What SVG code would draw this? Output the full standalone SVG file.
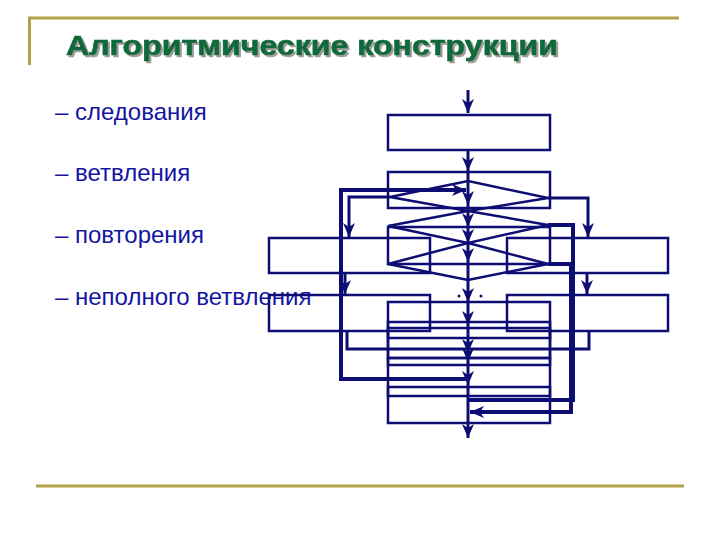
<svg xmlns="http://www.w3.org/2000/svg" width="720" height="540" viewBox="0 0 720 540">
<style>
.gold{fill:none;stroke:#b3a04a;stroke-width:3}
.box{fill:none;stroke:#0d0d73;stroke-width:2.5}
.ln{fill:none;stroke:#0d0d73;stroke-width:3}
.thk{stroke-width:4}
.lbl{font-family:"Liberation Sans",Arial,sans-serif;font-size:24px;fill:#1414a3}
.ttl{font-family:"Liberation Sans",Arial,sans-serif;font-size:28px;font-weight:bold;fill:#0e6b3a;stroke:#0e6b3a;stroke-width:0.7}
</style>
<defs>
<marker id="ah" viewBox="-1 -7 16 14" refX="14" refY="0" markerWidth="16" markerHeight="14" markerUnits="userSpaceOnUse" orient="auto">
<path d="M0,-6 L14,0 L0,6 L4,0 z" fill="#0d0d73"/>
</marker>
<filter id="shadow" x="-5%" y="-20%" width="110%" height="150%">
<feOffset in="SourceAlpha" dx="2" dy="2" result="o"/>
<feFlood flood-color="#9c9c9c"/>
<feComposite in2="o" operator="in" result="s"/>
<feMerge><feMergeNode in="s"/><feMergeNode in="SourceGraphic"/></feMerge>
</filter>
</defs>
<rect width="720" height="540" fill="#fff"/>
<g id="frame">
<path class="gold" d="M29.5,65 V18 H679"/>
<path class="gold" d="M36,486 H684"/>
</g>
<g id="title">
<text class="ttl" x="66" y="55" textLength="492" lengthAdjust="spacingAndGlyphs" filter="url(#shadow)">Алгоритмические конструкции</text>
</g>
<g id="list">
<text class="lbl" x="55" y="120">– следования</text>
<text class="lbl" x="55" y="181">– ветвления</text>
<text class="lbl" x="55" y="243">– повторения</text>
<text class="lbl" x="55" y="305">– неполного ветвления</text>
</g>
<g id="seq1"><rect class="box" x="388" y="115" width="162" height="35"/></g>
<g id="seq2"><rect class="box" x="388" y="172" width="162" height="36"/></g>
<g id="seq3"><rect class="box" x="388" y="227" width="162" height="37"/></g>
<g id="cond1"><polygon class="box" points="468,181 548,198 468,211 390,197"/></g>
<g id="cond2"><polygon class="box" points="468,211 548,225 468,243 388,226"/></g>
<g id="cond3"><polygon class="box" points="468,243 548,264 468,280 388,264"/></g>
<g id="left1"><rect class="box" x="269" y="238" width="161" height="35"/></g>
<g id="right1"><rect class="box" x="507" y="238" width="161" height="35"/></g>
<g id="left2"><rect class="box" x="269" y="295" width="161" height="36"/></g>
<g id="right2"><rect class="box" x="507" y="295" width="161" height="36"/></g>
<g id="body1"><rect class="box" x="388" y="302" width="162" height="36"/></g>
<g id="body2"><rect class="box" x="388" y="322" width="162" height="36"/></g>
<g id="body3"><rect class="box" x="388" y="328" width="162" height="37"/></g>
<g id="body4"><rect class="box" x="388" y="358" width="162" height="38"/></g>
<g id="body5"><rect class="box" x="388" y="387" width="162" height="36"/></g>
<g id="connectors">
<path class="ln" d="M468,90 V113" marker-end="url(#ah)"/>
<path class="ln" d="M468,150 V171" marker-end="url(#ah)"/>
<path class="ln" d="M468,171 V205" marker-end="url(#ah)"/>
<path class="ln" d="M468,205 V227" marker-end="url(#ah)"/>
<path class="ln" d="M468,227 V243" marker-end="url(#ah)"/>
<path class="ln" d="M468,243 V262" marker-end="url(#ah)"/>
<path class="ln" d="M468,262 V302" marker-end="url(#ah)"/>
<path class="ln" d="M468,302 V325" marker-end="url(#ah)"/>
<path class="ln" d="M468,325 V353" marker-end="url(#ah)"/>
<path class="ln" d="M468,353 V362" marker-end="url(#ah)"/>
<path class="ln" d="M468,362 V385" marker-end="url(#ah)"/>
<path class="ln" d="M468,385 V438" marker-end="url(#ah)"/>
<path class="ln thk" d="M468,379 H341 V190 H466" marker-end="url(#ah)"/>
<path class="ln" d="M390,197 H349 V237" marker-end="url(#ah)"/>
<path class="ln" d="M548,198 H588 V237" marker-end="url(#ah)"/>
<path class="ln" d="M345,273 V294" marker-end="url(#ah)"/>
<path class="ln" d="M587,273 V294" marker-end="url(#ah)"/>
<path class="ln" d="M347,331 V349 H468"/>
<path class="ln" d="M589,331 V349 H468"/>
<path class="ln thk" d="M548,225 H573 V400 H468"/>
<path class="ln thk" d="M548,264 H571 V412 H470" marker-end="url(#ah)"/>
<circle cx="459" cy="296" r="1.5" fill="#0d0d73"/>
<circle cx="481" cy="296" r="1.5" fill="#0d0d73"/>
</g>
</svg>
